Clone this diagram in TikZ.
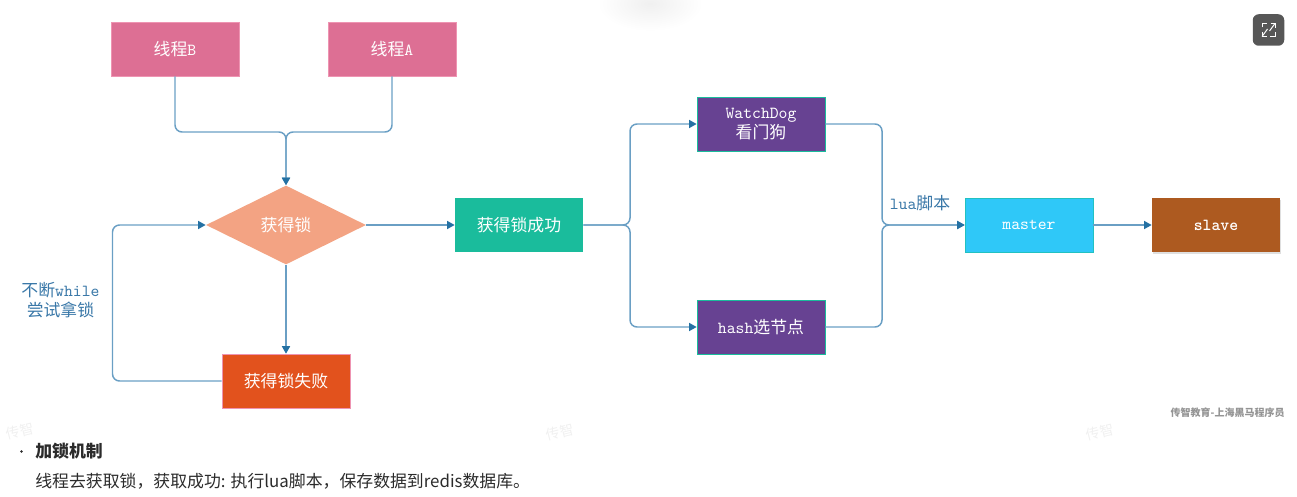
\documentclass[tikz,border=0pt]{standalone}
\usepackage{fontspec}
\usepackage{tikz}
\usetikzlibrary{arrows.meta,positioning,shapes.geometric,shadows}
\newfontfamily\cjk{Noto Sans CJK SC}
\newcommand{\han}[1]{{\cjk #1}}
\newcommand{\labelsize}{\fontsize{9.6}{11}\selectfont}
\definecolor{Rosa}{HTML}{DD6F94}
\definecolor{RosaClaro}{HTML}{EE94B2}
\definecolor{Salmon}{HTML}{F3A383}
\definecolor{Verde}{HTML}{1ABC9C}
\definecolor{Naranja}{HTML}{E2521D}
\definecolor{Morado}{HTML}{674292}
\definecolor{Celeste}{HTML}{2FC8F8}
\definecolor{Marron}{HTML}{AD5A20}
\definecolor{Linea}{HTML}{6A9FC4}
\definecolor{Punta}{HTML}{2471A3}
\definecolor{Etiqueta}{HTML}{3A78A8}
\definecolor{Cuerpo}{HTML}{2B2B2B}
\definecolor{Icono}{HTML}{575757}

\begin{document}
\begin{tikzpicture}[
  >=Latex,
  every node/.style={font=\labelsize},
  boxbase/.style={minimum width=2.56cm,minimum height=1.08cm,inner sep=0pt,
    text=white,align=center,font=\ttfamily\labelsize},
  threadbox/.style={boxbase,fill=Rosa,draw=RosaClaro,line width=0.3pt},
  purplebox/.style={boxbase,fill=Morado,draw=Verde,line width=0.4pt},
  flow/.style={draw=Linea,line width=0.85pt,rounded corners=4pt},
  flowtip/.style={flow,-{Triangle[length=1.5mm,width=1.6mm,color=Punta]}},
  tag/.style={text=Etiqueta,align=center,font=\ttfamily\labelsize,inner sep=0pt},
  iconline/.style={draw=white,line width=0.55pt},
  wmark/.style={text=black!6,rotate=14,font=\cjk\footnotesize,inner sep=0pt}
]
  \useasboundingbox (0,0) rectangle (25.94,9.92);

  % faint marks behind the chart
  \shade[inner color=black!6,outer color=white,draw=none]
    (13.00,9.85) ellipse (1.05cm and 0.55cm);
  \foreach \wx/\wy in {0.40/1.30,11.20/1.28,22.00/1.28}
    \node[wmark] at (\wx,\wy) {传智};

  \node[threadbox] (threadB) at (3.50,8.94) {\han{线程}B};
  \node[threadbox] (threadA) at (7.84,8.94) {\han{线程}A};
  \node[diamond,fill=Salmon,minimum width=3.20cm,minimum height=1.58cm,
    shape aspect=2,inner sep=0pt,text=white] (lockQ) at (5.72,5.42) {\han{获得锁}};
  \node[boxbase,fill=Verde] (lockOk) at (10.38,5.42) {\han{获得锁成功}};
  \node[boxbase,fill=Naranja,draw=RosaClaro,line width=0.3pt] (lockFail) at (5.72,2.30) {\han{获得锁失败}};
  \node[purplebox] (watchDog) at (15.22,7.44) {WatchDog\\\han{看门狗}};
  \node[purplebox] (hashNode) at (15.22,3.38) {hash\han{选节点}};
  \node[boxbase,fill=Celeste,draw=Verde!60!Celeste,line width=0.4pt] (master) at (20.58,5.42) {master};
  \node[boxbase,fill=Marron,font=\ttfamily\bfseries\labelsize,
    drop shadow={shadow xshift=0.3pt,shadow yshift=-1.2pt,opacity=0.25}] (slave) at (24.32,5.42) {slave};

  \coordinate (joinTop) at (5.72,7.28);
  \coordinate (splitR) at (12.60,5.42);
  \coordinate (joinR) at (17.64,5.42);
  \coordinate (retry) at (2.25,5.42);

  % connectors
  \draw[flowtip] (threadB.south) |- (joinTop) -- (lockQ.north);
  \draw[flowtip] (threadA.south) |- (joinTop) -- (lockQ.north);
  \draw[flowtip] (lockQ.south) -- (lockFail.north);
  \draw[flowtip] (lockFail.west) -| (retry) -- (lockQ.west);
  \draw[flowtip] (lockQ.east) -- (lockOk.west);
  \draw[flowtip] (lockOk.east) -- (splitR) |- (watchDog.west);
  \draw[flowtip] (lockOk.east) -- (splitR) |- (hashNode.west);
  \draw[flowtip] (watchDog.east) -| (joinR) -- (master.west);
  \draw[flowtip] (hashNode.east) -| (joinR) -- (master.west);
  \draw[flowtip] (master.east) -- (slave.west);

  \node[tag] (retryTag) at (1.21,3.92) {\han{不断}while\\\han{尝试拿锁}};
  \node[tag] (luaTag) at (18.40,5.86) {lua\han{脚本}};

  % expand button
  \node[fill=Icono,rounded corners=3.4pt,minimum size=0.63cm,inner sep=0pt] (expandBtn) at (25.37,9.32) {};
  \begin{scope}[shift={(expandBtn.center)}]
    \draw[iconline] (-0.13,0.05) -- (-0.13,0.13) -- (-0.03,0.13);
    \draw[iconline] (0.13,-0.05) -- (0.13,-0.13) -- (0.03,-0.13);
    \draw[iconline] (0.02,-0.02) -- (0.13,0.13);
    \draw[iconline] (0.04,0.13) -- (0.13,0.13) -- (0.13,0.04);
    \draw[iconline] (-0.02,0.02) -- (-0.13,-0.13);
    \draw[iconline] (-0.04,-0.13) -- (-0.13,-0.13) -- (-0.13,-0.04);
  \end{scope}

  \node[anchor=east,inner sep=0pt,font=\cjk\bfseries\fontsize{5.7}{7}\selectfont,text=black!42] (markText) at (25.70,1.66) {传智教育-上海黑马程序员};

  \node[circle,fill=Cuerpo,minimum size=1.6pt,inner sep=0pt] (bulletDot) at (0.43,0.89) {};
  \node[anchor=west,inner sep=0pt,text=Cuerpo,font=\cjk\bfseries\labelsize] (headLine) at (0.70,0.89) {加锁机制};
  \node[anchor=west,inner sep=0pt,text=Cuerpo,font=\cjk\labelsize] (bodyLine) at (0.70,0.30)
    {线程去获取锁，获取成功: 执行lua脚本，保存数据到redis数据库。};
\end{tikzpicture}
\end{document}
